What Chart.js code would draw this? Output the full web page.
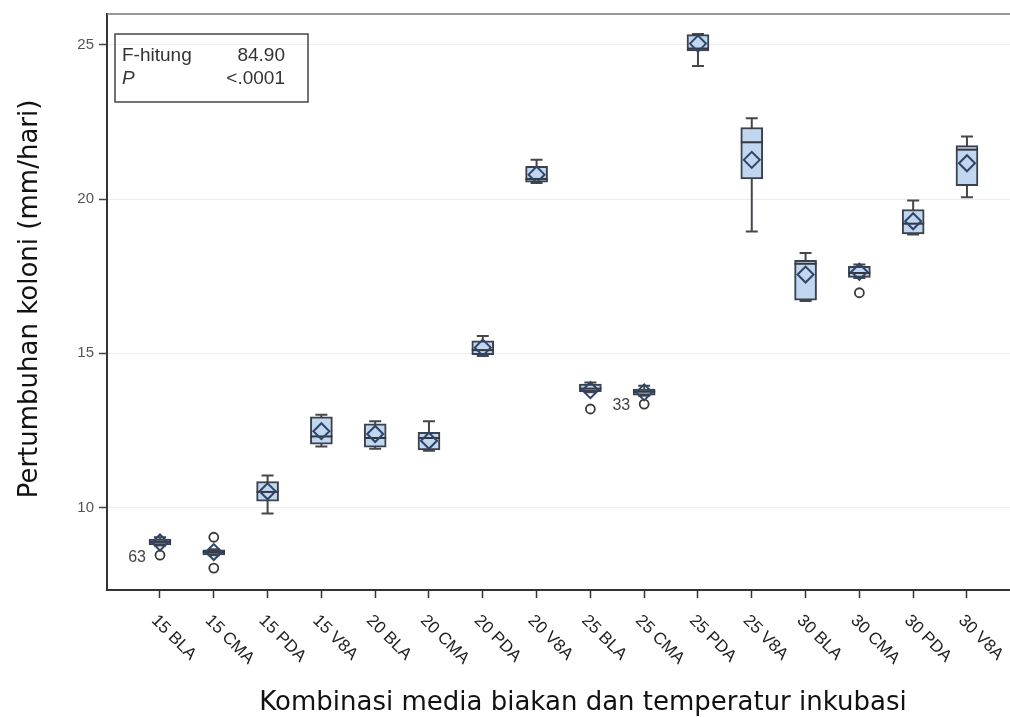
<!DOCTYPE html>
<html>
<head>
<meta charset="utf-8">
<script src="https://cdn.jsdelivr.net/npm/chart.js@4.4.1/dist/chart.umd.min.js"></script>
<style>
  html, body { margin: 0; padding: 0; background: #fff; }
  #wrap { width: 1010px; height: 717px; position: relative; }
</style>
</head>
<body>
<div id="wrap"><canvas id="boxChart"></canvas></div>
<script>
// groups: temperature + medium
var labels = ['15 BLA', '15 CMA', '15 PDA', '15 V8A', '20 BLA', '20 CMA', '20 PDA', '20 V8A',
              '25 BLA', '25 CMA', '25 PDA', '25 V8A', '30 BLA', '30 CMA', '30 PDA', '30 V8A'];

// box plot stats (mm/hari)
var whiskerLow  = [8.76, 8.45, 9.80, 11.97, 11.90, 11.84, 14.91, 20.52, 13.73, 13.62, 24.31, 18.95, 16.69, 17.44, 18.85, 20.06];
var q1          = [8.78, 8.46, 10.20, 12.05, 11.95, 11.86, 14.95, 20.55, 13.75, 13.64, 24.80, 20.65, 16.72, 17.46, 18.87, 20.43];
var median      = [8.88, 8.55, 10.50, 12.30, 12.25, 12.25, 15.10, 20.65, 13.85, 13.75, 24.88, 21.84, 17.90, 17.60, 19.20, 21.60];
var q3          = [8.97, 8.62, 10.84, 12.94, 12.71, 12.43, 15.40, 21.06, 14.00, 13.84, 25.33, 22.32, 18.01, 17.82, 19.66, 21.73];
var whiskerHigh = [9.03, 8.64, 11.03, 13.00, 12.79, 12.79, 15.56, 21.27, 14.05, 13.94, 25.35, 22.62, 18.25, 17.88, 19.95, 22.03];
var mean        = [8.86, 8.55, 10.52, 12.47, 12.38, 12.16, 15.18, 20.79, 13.80, 13.73, 25.04, 21.27, 17.55, 17.64, 19.28, 21.16];

// outliers: group index, value, id label
var outlierGroup = [0, 1, 1, 8, 9, 13];
var outlierValue = [8.45, 9.03, 8.03, 13.19, 13.35, 16.96];
var outlierId    = ['63', '', '', '', '33', ''];

var yTicks = [10, 15, 20, 25];

var FONT = '"Liberation Sans", Arial, sans-serif';
var TITLE_FONT = '"DejaVu Sans", sans-serif';

var boxExtras = {
  id: 'boxExtras',
  beforeDatasetsDraw: function (chart) {
    var ctx = chart.ctx, xs = chart.scales.x, ys = chart.scales.y;
    ctx.save();
    ctx.strokeStyle = '#45474d';
    ctx.lineWidth = 2;
    labels.forEach(function (l, i) {
      var px = xs.getPixelForValue(i);
      var lo = ys.getPixelForValue(whiskerLow[i]);
      var hi = ys.getPixelForValue(whiskerHigh[i]);
      ctx.beginPath();
      ctx.moveTo(px, lo); ctx.lineTo(px, hi);
      ctx.moveTo(px - 6, lo); ctx.lineTo(px + 6, lo);
      ctx.moveTo(px - 6, hi); ctx.lineTo(px + 6, hi);
      ctx.stroke();
    });
    ctx.restore();
  },
  afterDatasetDraw: function (chart, args) {
    if (args.index !== 0) return;
    var ctx = chart.ctx, xs = chart.scales.x, ys = chart.scales.y;
    ctx.save();
    ctx.strokeStyle = '#33373e';
    ctx.lineWidth = 2;
    labels.forEach(function (l, i) {
      var px = xs.getPixelForValue(i);
      var py = ys.getPixelForValue(median[i]);
      ctx.beginPath();
      ctx.moveTo(px - 11, py); ctx.lineTo(px + 11, py);
      ctx.stroke();
    });
    ctx.restore();
  },
  afterDraw: function (chart) {
    var ctx = chart.ctx, xs = chart.scales.x, ys = chart.scales.y, a = chart.chartArea;
    ctx.save();

    // frame top
    ctx.strokeStyle = '#777';
    ctx.lineWidth = 1.5;
    ctx.beginPath();
    ctx.moveTo(a.left, a.top); ctx.lineTo(a.right, a.top);
    ctx.stroke();

    // rotated category labels
    ctx.fillStyle = '#222';
    ctx.font = '17px ' + FONT;
    ctx.textAlign = 'left';
    ctx.textBaseline = 'middle';
    labels.forEach(function (l, i) {
      var px = xs.getPixelForValue(i);
      ctx.save();
      ctx.translate(px - 6, a.bottom + 28);
      ctx.rotate(Math.PI / 4);
      ctx.fillText(l, 0, 0);
      ctx.restore();
    });

    // axis titles
    ctx.fillStyle = '#111';
    ctx.font = '26px ' + TITLE_FONT;
    ctx.textAlign = 'center';
    ctx.textBaseline = 'alphabetic';
    ctx.fillText('Kombinasi media biakan dan temperatur inkubasi', 583, 710);
    ctx.save();
    ctx.translate(30, (a.top + a.bottom) / 2 - 3);
    ctx.rotate(-Math.PI / 2);
    ctx.textBaseline = 'middle';
    ctx.fillText('Pertumbuhan koloni (mm/hari)', 0, 0);
    ctx.restore();

    // outlier ids
    ctx.fillStyle = '#444';
    ctx.font = '16px ' + FONT;
    ctx.textAlign = 'right';
    ctx.textBaseline = 'middle';
    outlierId.forEach(function (t, k) {
      if (!t) return;
      var px = xs.getPixelForValue(outlierGroup[k]);
      var py = ys.getPixelForValue(outlierValue[k]);
      ctx.fillText(t, px - 14, py + 2);
    });

    // stats inset
    var bx = a.left + 8, by = a.top + 20;
    ctx.strokeStyle = '#444';
    ctx.lineWidth = 1.5;
    ctx.strokeRect(bx, by, 193, 68);
    ctx.fillStyle = '#333';
    ctx.textBaseline = 'alphabetic';
    ctx.font = '19px ' + FONT;
    ctx.textAlign = 'left';
    ctx.fillText('F-hitung', bx + 7, by + 27);
    ctx.font = 'italic 19px ' + FONT;
    ctx.fillText('P', bx + 7, by + 50);
    ctx.font = '19px ' + FONT;
    ctx.textAlign = 'right';
    ctx.fillText('84.90', bx + 170, by + 27);
    ctx.fillText('<.0001', bx + 170, by + 50);

    ctx.restore();
  }
};

var ctx = document.getElementById('boxChart').getContext('2d');
var boxChart = new Chart(ctx, {
  type: 'bar',
  data: {
    datasets: [
      {
        label: 'Box',
        order: 3,
        data: labels.map(function (l, i) { return { x: i, y: [q1[i], q3[i]] }; }),
        backgroundColor: 'rgb(193, 214, 239)',
        borderColor: '#3a404c',
        borderWidth: 2,
        borderSkipped: false,
        barThickness: 22
      },
      {
        type: 'scatter',
        label: 'Outlier',
        order: 2,
        data: outlierGroup.map(function (g, k) { return { x: g, y: outlierValue[k] }; }),
        pointStyle: 'circle',
        pointRadius: 4.5,
        borderColor: '#3a3a3a',
        borderWidth: 1.8,
        backgroundColor: '#fff'
      },
      {
        type: 'scatter',
        label: 'Mean',
        order: 1,
        data: labels.map(function (l, i) { return { x: i, y: mean[i] }; }),
        pointStyle: 'rectRot',
        pointRadius: 8,
        borderColor: '#2e4468',
        borderWidth: 2,
        backgroundColor: 'rgba(0,0,0,0)'
      }
    ]
  },
  options: {
    responsive: true,
    maintainAspectRatio: false,
    animation: false,
    layout: { autoPadding: false, padding: { top: 12, right: 0, left: 0, bottom: 0 } },
    plugins: { legend: { display: false }, tooltip: { enabled: false } },
    scales: {
      x: {
        type: 'linear',
        offset: false,
        min: -0.985,
        max: 15.8,
        afterBuildTicks: function (s) { s.ticks = labels.map(function (l, i) { return { value: i }; }); },
        afterFit: function (s) { s.height = 127; },
        ticks: { display: false },
        grid: { offset: false, drawOnChartArea: false, drawTicks: true, tickLength: 8, tickColor: '#333', tickWidth: 1.5 },
        border: { color: '#333', width: 2 }
      },
      y: {
        min: 7.32,
        max: 26.0,
        afterBuildTicks: function (s) { s.ticks = yTicks.map(function (v) { return { value: v }; }); },
        afterFit: function (s) { s.width = 107; },
        ticks: { color: '#555', padding: 5, font: { size: 15, family: FONT } },
        grid: { color: '#ececec', lineWidth: 1, tickColor: '#444', tickLength: 8, tickWidth: 1.5 },
        border: { color: '#333', width: 2 }
      }
    }
  },
  plugins: [boxExtras]
});
</script>
</body>
</html>
